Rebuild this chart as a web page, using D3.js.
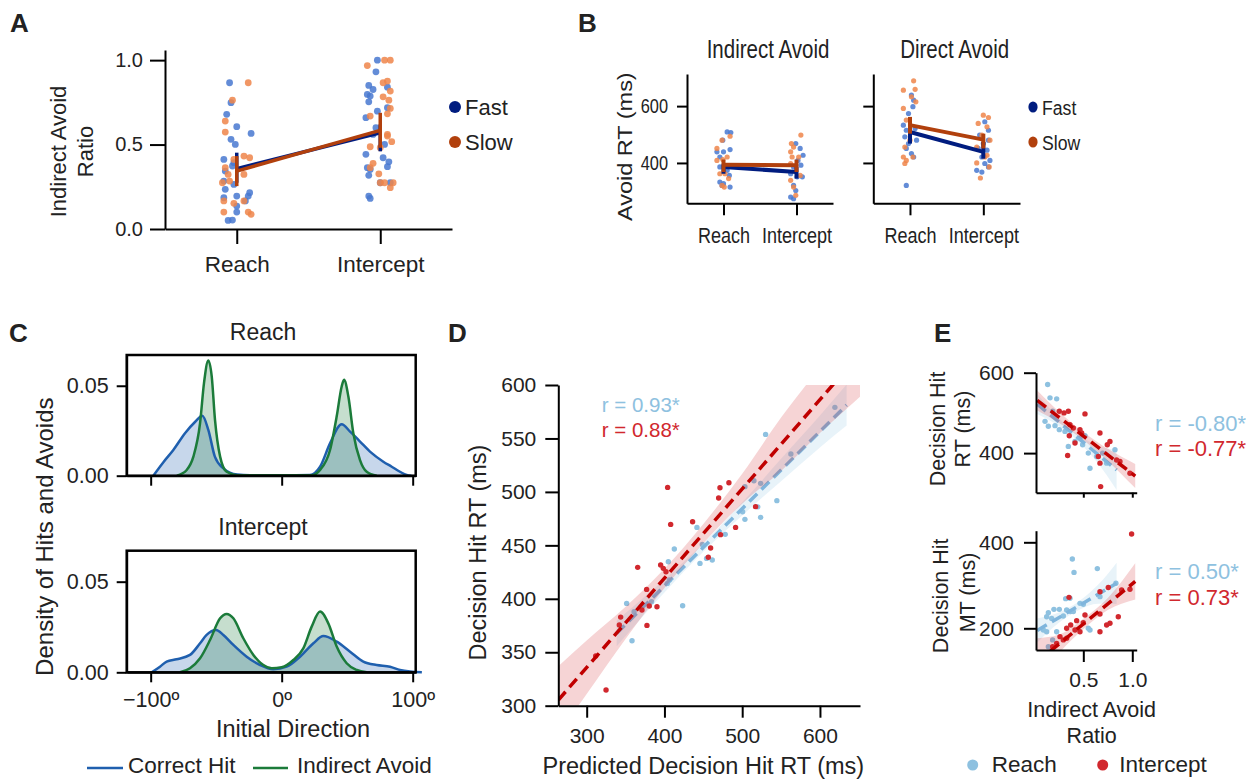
<!DOCTYPE html>
<html>
<head>
<meta charset="utf-8">
<script src="https://d3js.org/d3.v7.min.js"></script>
<style>
  body { margin: 0; background: #fff; }
</style>
</head>
<body>
<div id="chartHere"></div>
<script>

// ---------- data ----------
var conds = ["Reach", "Intercept"];
var speeds = ["Fast", "Slow"];

// panel A : [jitter (fraction of category step), indirect avoid ratio]
var aReachFast = [[-0.05,0.866],[-0.04,0.748],[-0.07,0.679],[0,0.606],[0.10,0.566],[-0.04,0.531],[-0.01,0.501],[-0.09,0.412],[-0.02,0.393],[-0.03,0.373],[-0.08,0.343],[-0.09,0.284],[-0.02,0.264],[-0.08,0.235],[0.09,0.215],[0.08,0.195],[0,0.195],[-0.09,0.185],[0.06,0.166],[0,0.136],[0,0.1],[-0.06,0.051],[-0.03,0.053]];
var aReachSlow = [[0.08,0.866],[-0.03,0.763],[-0.08,0.639],[-0.08,0.574],[0.05,0.432],[0.09,0.422],[-0.02,0.412],[-0.08,0.363],[-0.06,0.323],[0.05,0.323],[-0.05,0.284],[-0.1,0.274],[0.05,0.166],[-0.02,0.152],[-0.09,0.166],[-0.09,0.1],[0.08,0.1],[0.1,0.087]];
var aInterFast = [[-0.02,1.0],[-0.03,0.931],[-0.08,0.85],[-0.05,0.826],[0.05,0.84],[-0.09,0.797],[-0.07,0.787],[-0.08,0.753],[0.05,0.718],[-0.02,0.698],[-0.1,0.659],[-0.03,0.6],[-0.05,0.56],[0.03,0.501],[-0.1,0.442],[0.02,0.422],[0.06,0.398],[-0.09,0.363],[0.05,0.369],[-0.07,0.353],[-0.08,0.318],[0,0.274],[0.07,0.274],[-0.08,0.195],[-0.07,0.181]];
var aInterSlow = [[-0.09,0.968],[0.03,1.0],[0.07,1.0],[0.02,0.866],[0.05,0.876],[0.07,0.817],[0.02,0.783],[0.06,0.763],[0.07,0.714],[0.05,0.682],[-0.07,0.669],[0.05,0.56],[0.05,0.55],[-0.07,0.487],[0,0.481],[0.08,0.517],[-0.05,0.389],[-0.07,0.363],[-0.01,0.327],[0,0.274],[0.03,0.274],[0.09,0.274],[0.07,0.245]];
var aMeanFast = [0.357, 0.57], aMeanSlow = [0.343, 0.584];
var aErrFast = [[0.274,0.452],[0.46,0.62]], aErrSlow = [[0.254,0.432],[0.481,0.688]];

// panel B : [jitter, avoid RT]
var bIndReachFast = [[0.05,509],[0.1,507],[-0.01,480],[0.09,447],[-0.09,439],[0,439],[-0.05,421],[-0.05,386],[0.05,374],[0.08,356],[-0.05,333],[0,327],[0.09,315],[-0.02,321]];
var bIndReachSlow = [[-0.02,480],[0.09,494],[-0.09,451],[0.05,421],[-0.09,409],[-0.01,412],[0.02,362],[-0.05,362],[-0.02,321],[0.01,315],[0.07,345]];
var bIndInterFast = [[-0.01,468],[0.05,451],[0.09,427],[0.02,409],[-0.04,386],[0.06,392],[-0.08,362],[0.01,351],[0.08,351],[-0.04,321],[-0.01,303],[-0.08,280],[-0.04,274]];
var bIndInterSlow = [[0.06,498],[-0.07,468],[-0.04,456],[-0.08,439],[-0.06,421],[0.03,421],[-0.08,398],[-0.08,339],[0.05,356],[-0.04,315],[-0.01,286]];
var bDirReachFast = [[-0.05,321],[0.02,639],[0.05,621],[0.04,598],[-0.02,574],[-0.09,533],[-0.05,515],[0.07,521],[0.09,480],[-0.07,492],[-0.02,468],[0.02,433],[-0.05,451],[0.05,421]];
var bDirReachSlow = [[0.05,689],[-0.09,656],[0.07,659],[0.02,633],[-0.09,592],[0.08,615],[-0.05,551],[-0.07,456],[-0.09,421],[-0.05,409],[0.04,421],[-0.07,398],[0,480]];
var bDirInterFast = [[0.02,545],[0.07,515],[-0.05,498],[0.07,480],[0,468],[-0.07,451],[0.05,445],[-0.02,421],[0.09,409],[-0.09,374],[-0.02,368],[0.07,386],[0.02,398]];
var bDirInterSlow = [[0,568],[0.07,560],[-0.07,539],[0.05,527],[-0.02,498],[0.09,480],[-0.09,456],[0.05,427],[-0.09,400],[0.02,421],[0.08,386],[-0.04,347]];
var bIndMeanFast = [386, 368], bIndMeanSlow = [394, 392];
var bIndErrFast = [[362,397],[345,386]], bIndErrSlow = [[368,412],[368,412]];
var bDirMeanFast = [509, 439], bDirMeanSlow = [533, 482];
var bDirErrFast = [[468,533],[415,474]], bDirErrSlow = [[503,562],[451,503]];

// panel C : density curves [initial direction, density]
var cReachHit = [[-98,0],[-90,0.0078],[-82.7,0.0143],[-73.8,0.0236],[-66,0.03],[-60.6,0.0333],[-56,0.0255],[-51,0.0106],[-44.5,0.0041],[-34,0.0007],[-24,0.0003],[0,0.0002],[21.6,0.0004],[29.3,0.005],[36.9,0.018],[45.8,0.0286],[52.2,0.0245],[59.8,0.019],[67.4,0.0134],[77.6,0.0078],[84,0.005],[90.3,0.0022],[95.4,0.0004],[99,0]];
var cReachAvoid = [[-80,0],[-72.5,0.0032],[-67.4,0.0106],[-62.3,0.0292],[-59.3,0.0515],[-56,0.0641],[-53.4,0.0552],[-50.9,0.031],[-47,0.0106],[-42,0.0022],[-34,0.0003],[0,0.0002],[22.9,0.0003],[29.3,0.0032],[36.9,0.0143],[42,0.033],[45.8,0.0496],[47.6,0.0533],[50.9,0.044],[54.7,0.0236],[59.8,0.0087],[64.9,0.0022],[72.5,0]];
var cInterHit = [[-99.2,0],[-92.9,0.0031],[-87.8,0.0059],[-80.2,0.0072],[-70,0.0096],[-62.3,0.016],[-57.3,0.0206],[-50.1,0.0233],[-44.5,0.0206],[-36.9,0.0151],[-26.7,0.0086],[-16.5,0.004],[-6.4,0.0017],[3.8,0.0031],[14,0.0086],[24.2,0.016],[31.8,0.02],[42,0.0169],[52.2,0.0114],[62.3,0.0059],[72.5,0.004],[82.7,0.0031],[90.3,0.0013],[98,0.0004],[107,0]];
var cInterAvoid = [[-77.6,0],[-70,0.0022],[-62.3,0.0077],[-54.7,0.0178],[-47,0.0298],[-42,0.0322],[-36.9,0.0298],[-29.3,0.0188],[-21.6,0.0096],[-14,0.004],[-7.6,0.0022],[0,0.0028],[8.9,0.0068],[16.5,0.0132],[22.9,0.0252],[29.3,0.0335],[35.6,0.027],[42,0.0142],[49.6,0.005],[57.3,0.0013],[64.9,0]];

// panel D : [predicted RT, decision hit RT]
var dReach = [[619.2,579.1],[530.1,553.8],[562.6,535.4],[515.1,510.5],[523.7,508],[503.5,504.9],[544.6,491.8],[500.5,481.5],[503.5,474.3],[523.7,476.2],[520,486],[441.8,466.8],[478.2,460.3],[412.7,446.6],[448.7,450.9],[405,434.7],[445.7,433.1],[461.5,436.3],[454.2,437.8],[406.3,417.6],[403.7,414.4],[423.4,393.5],[351.4,395.7],[383.5,397.3],[358.3,360.8],[361,388]];
var dIntercept = [[404.1,504.2],[482.9,508.6],[471.4,503.9],[469.7,494.3],[517.2,486.2],[408,469.6],[436.2,472.1],[491.5,466.8],[472.2,460],[459.4,447.5],[456.4,438.8],[395.1,431.6],[398.5,428.5],[402,425.3],[365.6,429.4],[377.1,408.8],[380.5,393.2],[390.4,392.6],[371.1,389.5],[343.7,382.9],[342,375.5],[377.5,375.1],[311.6,346.5],[324.9,314.7]];
var dFitReach = [[338.6,367.7],[634.3,581.3]];
var dFitIntercept = [[263.5,305.3],[651.5,629.3]];
var dBandReach = [[338.6,355.7,379.7],[400,406,418],[450,444,452],[500,478,490],[550,510,531],[600,541.5,571.5],[634.3,562,600.5]];
var dBandIntercept = [[263.5,273,337],[300,311,361],[350,362.5,392.5],[400,410,428],[450,452,470],[500,489,517],[550,519.5,569.5],[600,555,617],[651.5,589,669]];
var dR = ["r = 0.93*", "r = 0.88*"];

// panel E : [indirect avoid ratio, RT or MT]
var eTopReach = [[0.136,570.8],[0.16,537.5],[0.228,535],[0.187,504],[0.109,479],[0.143,466.7],[0.211,468.3],[0.255,458.3],[0.313,454],[0.347,416.7],[0.415,429],[0.466,437.5],[0.517,443],[0.493,420.8],[0.551,400],[0.568,362.5],[0.636,391.7],[0.738,375],[0.823,408.3],[0.697,400]];
var eTopIntercept = [[0.255,504],[0.303,500],[0.347,504],[0.517,497.5],[0.364,470.8],[0.398,462.5],[0.466,458.3],[0.483,450],[0.357,443.3],[0.415,425],[0.34,394],[0.67,450],[0.772,429],[0.745,420.8],[0.653,391.7],[0.67,375],[0.84,383],[0.874,379],[0.976,350],[0.677,316.7]];
var eBotReach = [[0.388,361],[0.405,330],[0.643,338.8],[0.833,304.7],[0.32,269],[0.364,269.8],[0.143,236.4],[0.2,244],[0.255,244],[0.33,242.6],[0.371,238.8],[0.398,238.8],[0.126,227],[0.177,223],[0.296,228.7],[0.466,258],[0.5,255.8],[0.092,196],[0.126,192],[0.551,200],[0.568,196],[0.228,192],[0.187,173],[0.143,157],[0.67,273.6]];
var eBotIntercept = [[0.993,419.4],[0.354,272],[0.755,295],[0.67,285],[0.891,289],[0.976,290.7],[0.517,231],[0.67,233.3],[0.772,211.6],[0.857,227],[0.738,207.8],[0.5,213],[0.432,217.8],[0.371,207.8],[0.33,200],[0.415,196],[0.466,192],[0.67,192],[0.262,180.6],[0.296,173],[0.228,165],[0.187,157],[0.33,176.7]];
var eTopFitReach = [[0.03,522],[0.84,358]];
var eTopFitIntercept = [[0.03,531],[1.03,343]];
var eTopBandReach = [[0.03,497,547],[0.25,467.5,487.5],[0.45,429,445],[0.65,374.5,418.5],[0.84,308,408]];
var eTopBandIntercept = [[0.03,506,556],[0.25,475.6,503.6],[0.5,432.6,452.6],[0.75,380.6,410.6],[1.03,313,373]];
var eBotFitReach = [[0.03,195],[0.84,304.7]];
var eBotFitIntercept = [[0.03,122],[1.03,309]];
var eBotBandReach = [[0.03,167,223],[0.25,212.8,236.8],[0.45,241.9,261.9],[0.65,257,301],[0.84,256.7,352.7]];
var eBotBandIntercept = [[0.03,67,177],[0.25,141,185],[0.5,198,222],[0.75,242.6,270.6],[1.03,267,351]];
var eTopR = ["r = -0.80*", "r = -0.77*"];
var eBotR = ["r = 0.50*", "r = 0.73*"];

// ---------- drawing ----------
var FONT = "'Liberation Sans', Arial, sans-serif";
var TXT = "#222";
var darkCol = {"Fast": "#001c7f", "Slow": "#b1400d"};
var ptCol = {"Fast": "#4878d0", "Slow": "#ee854a"};
var lightBlue = "#8ec1e0", red = "#d1282e", redLine = "#c00000", blueLine = "#7fb5dc";
var hitCol = "#1f5fae", avoidCol = "#1b7b3a";

var svg = d3.select("div#chartHere").append("svg")
    .attr("width", 1246).attr("height", 779)
    .attr("font-family", FONT)
    .style("background", "#fff");
var defs = svg.append("defs");

function clip(id, x0, y0, x1, y1) {
  defs.append("clipPath").attr("id", id).append("rect")
    .attr("x", x0).attr("y", y0).attr("width", x1 - x0).attr("height", y1 - y0);
  return "url(#" + id + ")";
}

function txt(x, y, s, fs, o) {
  o = o || {};
  var tr = "translate(" + x + "," + y + ")";
  if (o.rot) tr += " rotate(-90)";
  if (o.sq) tr += o.rot ? " scale(1," + o.sq + ")" : " scale(" + o.sq + ",1)";
  return svg.append("text").text(s)
    .attr("transform", tr)
    .attr("font-size", fs)
    .attr("fill", o.fill || TXT)
    .attr("font-weight", o.bold ? "bold" : null)
    .attr("text-anchor", o.anchor || "middle");
}

function styleAxis(g, fs, sq, left) {
  g.attr("font-family", FONT).attr("font-size", fs);
  g.select(".domain").attr("stroke", "#000").attr("stroke-width", 2);
  g.selectAll(".tick line").attr("stroke", "#000").attr("stroke-width", 2);
  g.selectAll(".tick text").attr("fill", TXT);
  if (sq) {
    g.selectAll(".tick text").each(function () {
      var t = d3.select(this);
      if (left) t.attr("x", +t.attr("x") / sq);
      t.attr("transform", "scale(" + sq + ",1)");
    });
  }
  return g;
}

// panel letters
txt(10, 32, "A", 26, {bold: true, anchor: "start"});
txt(578, 32, "B", 26, {bold: true, anchor: "start"});
txt(9, 342, "C", 26, {bold: true, anchor: "start"});
txt(448, 342, "D", 26, {bold: true, anchor: "start"});
txt(934, 342, "E", 26, {bold: true, anchor: "start"});

// ===== Panel A =====
var xA = d3.scalePoint().domain(conds).range([165, 452]).padding(0.5);
var yA = d3.scaleLinear().domain([0, 1.06]).range([229, 50]);

styleAxis(svg.append("g").attr("transform", "translate(0,229)")
  .call(d3.axisBottom(xA).tickSize(15).tickPadding(12).tickSizeOuter(0)), 22.5);
styleAxis(svg.append("g").attr("transform", "translate(165,0)")
  .call(d3.axisLeft(yA).tickValues([0, 0.5, 1]).tickFormat(d3.format(".1f")).tickSize(15).tickPadding(7).tickSizeOuter(0)), 20);

var aGroups = [["Reach", "Fast", aReachFast], ["Reach", "Slow", aReachSlow],
               ["Intercept", "Fast", aInterFast], ["Intercept", "Slow", aInterSlow]];
aGroups.forEach(function (grp) {
  svg.append("g").selectAll("circle").data(grp[2]).enter().append("circle")
    .attr("cx", function (d) { return xA(grp[0]) + d[0] * xA.step(); })
    .attr("cy", function (d) { return yA(d[1]); })
    .attr("r", 3.4)
    .attr("fill", ptCol[grp[1]]).attr("fill-opacity", 0.85);
});

[["Fast", aMeanFast, aErrFast], ["Slow", aMeanSlow, aErrSlow]].forEach(function (s) {
  svg.append("path")
    .attr("d", d3.line().x(function (d, i) { return xA(conds[i]); }).y(function (d) { return yA(d); })(s[1]))
    .attr("fill", "none").attr("stroke", darkCol[s[0]]).attr("stroke-width", 3.5);
  svg.append("g").selectAll("line").data(s[2]).enter().append("line")
    .attr("x1", function (d, i) { return xA(conds[i]); })
    .attr("x2", function (d, i) { return xA(conds[i]); })
    .attr("y1", function (d) { return yA(d[0]); })
    .attr("y2", function (d) { return yA(d[1]); })
    .attr("stroke", darkCol[s[0]]).attr("stroke-width", 3.5);
});

txt(66, 151.5, "Indirect Avoid", 22, {rot: true});
txt(93, 151.5, "Ratio", 22, {rot: true});

speeds.forEach(function (s, i) {
  svg.append("circle").attr("cx", 455).attr("cy", 107 + i * 35).attr("r", 6).attr("fill", darkCol[s]);
  txt(465, 115 + i * 35, s, 22, {anchor: "start"});
});

// ===== Panel B =====
var SQ = 0.84;
var yB = d3.scaleLinear().domain([258, 713]).range([203.3, 74]);
var bPanels = [
  {x0: 687, x1: 833, title: "Indirect Avoid", labels: true,
   pts: [["Reach", "Fast", bIndReachFast], ["Reach", "Slow", bIndReachSlow], ["Intercept", "Fast", bIndInterFast], ["Intercept", "Slow", bIndInterSlow]],
   means: [["Fast", bIndMeanFast, bIndErrFast], ["Slow", bIndMeanSlow, bIndErrSlow]]},
  {x0: 873.3, x1: 1020, title: "Direct Avoid", labels: false,
   pts: [["Reach", "Fast", bDirReachFast], ["Reach", "Slow", bDirReachSlow], ["Intercept", "Fast", bDirInterFast], ["Intercept", "Slow", bDirInterSlow]],
   means: [["Fast", bDirMeanFast, bDirErrFast], ["Slow", bDirMeanSlow, bDirErrSlow]]}
];
bPanels.forEach(function (p) {
  var xB = d3.scalePoint().domain(conds).range([p.x0, p.x1]).padding(0.5);
  styleAxis(svg.append("g").attr("transform", "translate(0,203.3)")
    .call(d3.axisBottom(xB).tickSize(12).tickPadding(12).tickSizeOuter(0)), 21.5, SQ);
  var ya = d3.axisLeft(yB).tickValues([400, 600]).tickSize(10).tickPadding(9).tickSizeOuter(0);
  if (!p.labels) ya.tickFormat("");
  styleAxis(svg.append("g").attr("transform", "translate(" + p.x0 + ",0)").call(ya), 19.5, SQ, true);

  p.pts.forEach(function (grp) {
    svg.append("g").selectAll("circle").data(grp[2]).enter().append("circle")
      .attr("cx", function (d) { return xB(grp[0]) + d[0] * xB.step(); })
      .attr("cy", function (d) { return yB(d[1]); })
      .attr("r", 2.6)
      .attr("fill", ptCol[grp[1]]).attr("fill-opacity", 0.85);
  });
  p.means.forEach(function (s) {
    svg.append("path")
      .attr("d", d3.line().x(function (d, i) { return xB(conds[i]); }).y(function (d) { return yB(d); })(s[1]))
      .attr("fill", "none").attr("stroke", darkCol[s[0]]).attr("stroke-width", 4);
    svg.append("g").selectAll("line").data(s[2]).enter().append("line")
      .attr("x1", function (d, i) { return xB(conds[i]); })
      .attr("x2", function (d, i) { return xB(conds[i]); })
      .attr("y1", function (d) { return yB(d[0]); })
      .attr("y2", function (d) { return yB(d[1]); })
      .attr("stroke", darkCol[s[0]]).attr("stroke-width", 4);
  });
  txt((p.x0 + p.x1) / 2 + 8, 58, p.title, 25, {sq: 0.82});
});
txt(632, 146.7, "Avoid RT (ms)", 23.5, {rot: true, sq: SQ});
speeds.forEach(function (s, i) {
  svg.append("ellipse").attr("cx", 1033).attr("cy", 107 + i * 35).attr("rx", 4.6).attr("ry", 5.5).attr("fill", darkCol[s]);
  txt(1042, 115 + i * 35, s, 21, {anchor: "start", sq: SQ});
});

// ===== Panel C =====
var xC = d3.scaleLinear().domain([-118.3, 102.3]).range([126.7, 415.7]);
var cPanels = [
  {top: 355, bot: 475.7, title: "Reach", ty: 340, hit: cReachHit, avoid: cReachAvoid, labels: false},
  {top: 550.7, bot: 672.3, title: "Intercept", ty: 535, hit: cInterHit, avoid: cInterAvoid, labels: true}
];
cPanels.forEach(function (p) {
  var yC = d3.scaleLinear().domain([0, 0.0671]).range([p.bot, p.top]);
  var xa = d3.axisBottom(xC).tickValues([-100, 0, 100]).tickSize(10).tickPadding(9).tickSizeOuter(0)
    .tickFormat(function (d) { return (d < 0 ? "\u2212" : "") + Math.abs(d) + "\u00ba"; });
  if (!p.labels) xa.tickFormat("");
  styleAxis(svg.append("g").attr("transform", "translate(0," + p.bot + ")").call(xa), 21.5);
  styleAxis(svg.append("g").attr("transform", "translate(126.7,0)")
    .call(d3.axisLeft(yC).tickValues([0, 0.05]).tickFormat(d3.format(".2f")).tickSize(10).tickPadding(8).tickSizeOuter(0)), 21.5);

  var area = d3.area().curve(d3.curveMonotoneX)
    .x(function (d) { return xC(d[0]); }).y0(yC(0)).y1(function (d) { return yC(d[1]); });
  var line = d3.line().curve(d3.curveMonotoneX)
    .x(function (d) { return xC(d[0]); }).y(function (d) { return yC(d[1]); });
  [[p.hit, hitCol], [p.avoid, avoidCol]].forEach(function (c) {
    svg.append("path").attr("d", area(c[0])).attr("fill", c[1]).attr("fill-opacity", 0.25);
  });
  [[p.hit, hitCol], [p.avoid, avoidCol]].forEach(function (c) {
    svg.append("path").attr("d", line(c[0])).attr("fill", "none").attr("stroke", c[1]).attr("stroke-width", 2.5);
  });
  svg.append("rect").attr("x", 126.7).attr("y", p.top).attr("width", 415.7 - 126.7).attr("height", p.bot - p.top)
    .attr("fill", "none").attr("stroke", "#000").attr("stroke-width", 2.5);
  txt(263, p.ty, p.title, 23);
});
txt(53, 536.7, "Density of Hits and Avoids", 24, {rot: true});
txt(293, 736.7, "Initial Direction", 23.5);
[["Correct Hit", hitCol, 87, 123, 128], ["Indirect Avoid", avoidCol, 253, 288, 297]].forEach(function (l) {
  svg.append("line").attr("x1", l[2]).attr("x2", l[3]).attr("y1", 768).attr("y2", 768)
    .attr("stroke", l[1]).attr("stroke-width", 2.5);
  txt(l[4], 773, l[0], 22.5, {anchor: "start"});
});

// ===== regression helper (D, E) =====
function regGroup(x, y, clipUrl, pts, fit, band, ptColor, lineColor, r) {
  var g = svg.append("g").attr("clip-path", clipUrl);
  g.append("path")
    .attr("d", d3.area().curve(d3.curveMonotoneX)
      .x(function (d) { return x(d[0]); })
      .y0(function (d) { return y(d[1]); })
      .y1(function (d) { return y(d[2]); })(band))
    .attr("fill", ptColor).attr("fill-opacity", 0.2);
  g.selectAll("circle").data(pts).enter().append("circle")
    .attr("cx", function (d) { return x(d[0]); })
    .attr("cy", function (d) { return y(d[1]); })
    .attr("r", r).attr("fill", ptColor);
  g.append("path")
    .attr("d", d3.line().x(function (d) { return x(d[0]); }).y(function (d) { return y(d[1]); })(fit))
    .attr("fill", "none").attr("stroke", lineColor).attr("stroke-width", 3.5)
    .attr("stroke-dasharray", "11,6");
}

// ===== Panel D =====
var xD = d3.scaleLinear().domain([263.5, 651.5]).range([558.3, 860]);
var yD = d3.scaleLinear().domain([300, 600]).range([705.7, 385]);
var clipD = clip("clipD", 558.3, 385, 860, 705.7);
regGroup(xD, yD, clipD, dReach, dFitReach, dBandReach, lightBlue, blueLine, 2.7);
regGroup(xD, yD, clipD, dIntercept, dFitIntercept, dBandIntercept, red, redLine, 2.7);
styleAxis(svg.append("g").attr("transform", "translate(0,705.7)")
  .call(d3.axisBottom(xD).tickValues([300, 400, 500, 600]).tickSize(12).tickPadding(10).tickSizeOuter(0)), 21);
styleAxis(svg.append("g").attr("transform", "translate(558.3,0)")
  .call(d3.axisLeft(yD).tickValues([300, 350, 400, 450, 500, 550, 600]).tickSize(13).tickPadding(9).tickSizeOuter(0)), 21);
txt(601.7, 411.7, dR[0], 20.5, {anchor: "start", fill: lightBlue});
txt(601.7, 436.7, dR[1], 20.5, {anchor: "start", fill: red});
txt(703.3, 774, "Predicted Decision Hit RT (ms)", 23.5);
txt(486, 552.5, "Decision Hit RT (ms)", 23.5, {rot: true});

// ===== Panel E =====
var xE = d3.scaleLinear().domain([0.017, 1.045]).range([1036, 1136.7]);
var yETop = d3.scaleLinear().domain([301.5, 600]).range([492.7, 372.7]);
var yEBot = d3.scaleLinear().domain([149.5, 427]).range([650, 530.7]);
var clipET = clip("clipET", 1036, 372.7, 1136.7, 492.7);
var clipEB = clip("clipEB", 1036, 530.7, 1136.7, 650);
regGroup(xE, yETop, clipET, eTopReach, eTopFitReach, eTopBandReach, lightBlue, blueLine, 2.7);
regGroup(xE, yETop, clipET, eTopIntercept, eTopFitIntercept, eTopBandIntercept, red, redLine, 2.7);
regGroup(xE, yEBot, clipEB, eBotReach, eBotFitReach, eBotBandReach, lightBlue, blueLine, 2.7);
regGroup(xE, yEBot, clipEB, eBotIntercept, eBotFitIntercept, eBotBandIntercept, red, redLine, 2.7);

styleAxis(svg.append("g").attr("transform", "translate(0,492.7)")
  .call(d3.axisBottom(xE).tickValues([0.5, 1]).tickFormat("").tickSize(5).tickSizeOuter(0)), 21);
styleAxis(svg.append("g").attr("transform", "translate(1036,0)")
  .call(d3.axisLeft(yETop).tickValues([400, 600]).tickSize(12).tickPadding(10).tickSizeOuter(0)), 21);
styleAxis(svg.append("g").attr("transform", "translate(0,650)")
  .call(d3.axisBottom(xE).tickValues([0.5, 1]).tickFormat(d3.format(".1f")).tickSize(12).tickPadding(10).tickSizeOuter(0)), 21);
styleAxis(svg.append("g").attr("transform", "translate(1036,0)")
  .call(d3.axisLeft(yEBot).tickValues([200, 400]).tickSize(12).tickPadding(10).tickSizeOuter(0)), 21);

txt(1155, 430.7, eTopR[0], 22, {anchor: "start", fill: lightBlue});
txt(1155, 456, eTopR[1], 22, {anchor: "start", fill: red});
txt(1155, 579.3, eBotR[0], 22, {anchor: "start", fill: lightBlue});
txt(1155, 605, eBotR[1], 22, {anchor: "start", fill: red});

txt(944.5, 429, "Decision Hit", 21.5, {rot: true});
txt(970, 429, "RT (ms)", 21.5, {rot: true});
txt(948, 595.8, "Decision Hit", 21.5, {rot: true});
txt(975, 592.5, "MT (ms)", 21.5, {rot: true});
txt(1091.7, 717.3, "Indirect Avoid", 21.5);
txt(1091.7, 743.3, "Ratio", 21.5);

[["Reach", lightBlue, 972.7, 991.7], ["Intercept", red, 1102.7, 1119.3]].forEach(function (l) {
  svg.append("circle").attr("cx", l[2]).attr("cy", 765).attr("r", 5.5).attr("fill", l[1]);
  txt(l[3], 772, l[0], 22.5, {anchor: "start"});
});

</script>
</body>
</html>
